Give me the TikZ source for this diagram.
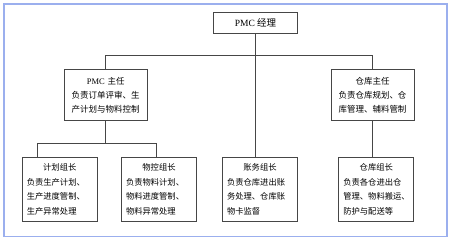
\documentclass[tikz,border=0pt]{standalone}
\usepackage{fontspec}
\setmainfont{Liberation Serif}
\newfontfamily\cjk{Noto Sans CJK SC}
\definecolor{frameblue}{RGB}{155,175,238}
\definecolor{boxline}{RGB}{70,70,70}

\begin{document}
\begin{tikzpicture}[
    x=1pt, y=-1pt,
    font=\cjk\fontsize{8.5}{14}\selectfont,
    box/.style={rectangle, draw=boxline, line width=0.9pt, fill=white, inner ysep=2pt},
    head/.style={box, minimum width=83.5pt, minimum height=21pt,
        font=\cjk\fontsize{9.5}{12}\selectfont},
    lead/.style={box, text width=69pt, inner xsep=7pt, minimum height=51.5pt, align=center},
    team/.style={box, text width=66pt, inner xsep=4.5pt, minimum height=64.5pt, align=left,
        font=\cjk\fontsize{8.3}{14.5}\selectfont},
    link/.style={draw=boxline, line width=0.9pt},
]
\useasboundingbox (0,0) rectangle (451,240);
\draw[frameblue, line width=1.3pt] (4,4) rectangle (447,236.5);

\node[head] (boss) at (255.5,22.5) {\textrm{PMC} 经理};

\node[lead] (pmc) at (105.7,95) {\textrm{PMC} 主任\\负责订单评审、生\\产计划与物料控制};
\node[lead] (store) at (372.5,95) {仓库主任\\负责仓库规划、仓\\库管理、辅料管制};

\node[team] (plan) at (59.8,189.5)
    {\makebox[\linewidth]{计划组长}\\负责生产计划、\\生产进度管制、\\生产异常处理};
\node[team] (ctrl) at (159,189.5)
    {\makebox[\linewidth]{物控组长}\\负责物料计划、\\物料进度管制、\\物料异常处理};
\node[team] (acct) at (260,189.5)
    {\makebox[\linewidth]{账务组长}\\负责仓库进出账\\务处理、仓库账\\物卡监督};
\node[team] (keeper) at (376.3,189.5)
    {\makebox[\linewidth]{仓库组长}\\负责各仓进出仓\\管理、物料搬运、\\防护与配送等};

% connectors
\coordinate (bus) at ([yshift=-22pt]boss.south);
\coordinate (fork) at ([yshift=-22.5pt]pmc.south);
\draw[link] (boss.south) -- (boss.south |- acct.north);
\draw[link] (pmc.north) |- (bus) -| (store.north);
\draw[link] (pmc.south) -- (fork);
\draw[link] ([xshift=16pt]plan.north west) |- (fork) -| ([xshift=35pt]ctrl.north west);
\draw[link] (store.south) -- (store.south |- keeper.north);

\end{tikzpicture}
\end{document}
